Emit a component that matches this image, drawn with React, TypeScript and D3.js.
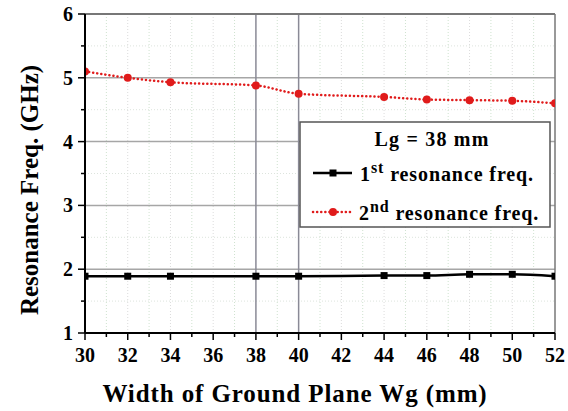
import React from "react";
import * as d3 from "d3";

const widths = [30, 32, 34, 38, 40, 44, 46, 48, 50, 52];
const firstRes = [1.89, 1.89, 1.89, 1.89, 1.89, 1.9, 1.9, 1.92, 1.92, 1.89];
const secondRes = [5.1, 5.0, 4.93, 4.88, 4.75, 4.7, 4.66, 4.65, 4.64, 4.6];
const xTicks = [30, 32, 34, 36, 38, 40, 42, 44, 46, 48, 50, 52];
const yTicks = [1, 2, 3, 4, 5, 6];
const xLabel = "Width of Ground Plane Wg (mm)";
const yLabel = "Resonance Freq. (GHz)";
const legendTitle = "Lg = 38 mm";

const W = 568, H = 411;
const FONT = "'Liberation Serif', 'Times New Roman', serif";

export default function App() {
  const x = d3.scaleLinear().domain([30, 52]).range([85, 555]);
  const y = d3.scaleLinear().domain([1, 6]).range([333, 14]);

  const s1 = widths.map((w, i) => [w, firstRes[i]] as [number, number]);
  const s2 = widths.map((w, i) => [w, secondRes[i]] as [number, number]);
  const line = d3
    .line<[number, number]>()
    .x((d) => x(d[0]))
    .y((d) => y(d[1]))
    .curve(d3.curveMonotoneX);

  const intX = d3.range(30, 53);
  const halfY = d3.range(1.5, 6, 1);

  return (
    <div style={{ position: "absolute", left: 0, top: 0 }}>
      <svg width={W} height={H} style={{ display: "block", background: "#fff" }} fontFamily={FONT}>
        <defs>
          <clipPath id="plot">
            <rect x={x(30)} y={y(6)} width={x(52) - x(30)} height={y(1) - y(6)} />
          </clipPath>
        </defs>
        {/* minor grid */}
        {intX.filter((v) => v !== 30 && v !== 52 && v !== 38 && v !== 40).map((v) => (
          <line key={"vx" + v} x1={x(v)} x2={x(v)} y1={y(6)} y2={y(1)}
            stroke={v % 2 === 1 ? "#cfe2cf" : "#dcdcdc"} strokeWidth={1} strokeDasharray="1,2" />
        ))}
        {halfY.map((v) => (
          <line key={"hy" + v} x1={x(30)} x2={x(52)} y1={y(v)} y2={y(v)}
            stroke="#dde4dd" strokeWidth={1} strokeDasharray="1,2" />
        ))}
        {/* major grid */}
        {[2, 3, 4, 5].map((v) => (
          <line key={"gy" + v} x1={x(30)} x2={x(52)} y1={y(v)} y2={y(v)} stroke="#a6a6a6" strokeWidth={1.5} />
        ))}
        {[38, 40].map((v) => (
          <line key={"gx" + v} x1={x(v)} x2={x(v)} y1={y(6)} y2={y(1)} stroke="#8a8a96" strokeWidth={1.5} />
        ))}
        {/* frame */}
        <line x1={x(30)} x2={x(52)} y1={y(6)} y2={y(6)} stroke="#777" strokeWidth={2} />
        <line x1={x(52)} x2={x(52)} y1={y(6)} y2={y(1)} stroke="#777" strokeWidth={1.5} />

        {/* series */}
        <g clipPath="url(#plot)">
          <path d={line(s1) || ""} fill="none" stroke="#000" strokeWidth={2.5} />
          {s1.map((d, i) => (
            <rect key={"m1" + i} x={x(d[0]) - 3.5} y={y(d[1]) - 3.5} width={7} height={7} fill="#000" />
          ))}
          <path d={line(s2) || ""} fill="none" stroke="#e01b1b" strokeWidth={2.5}
            strokeDasharray="0.1,4" strokeLinecap="round" />
          {s2.map((d, i) => (
            <circle key={"m2" + i} cx={x(d[0])} cy={y(d[1])} r={4} fill="#e01b1b" />
          ))}
        </g>

        {/* axes */}
        <line x1={x(30)} x2={x(30)} y1={y(6)} y2={y(1)} stroke="#000" strokeWidth={2} />
        <line x1={x(30)} x2={x(52)} y1={y(1)} y2={y(1)} stroke="#000" strokeWidth={2} />
        {intX.map((v) => (
          <line key={"tx" + v} x1={x(v)} x2={x(v)} y1={y(1)} y2={y(1) + (v % 2 === 0 ? 7 : 4)}
            stroke="#000" strokeWidth={1.5} />
        ))}
        {d3.range(1, 6.01, 0.5).map((v) => (
          <line key={"ty" + v} x1={x(30)} x2={x(30) - (Number.isInteger(v) ? 7 : 4)} y1={y(v)} y2={y(v)}
            stroke="#000" strokeWidth={1.5} />
        ))}
        {xTicks.map((v) => (
          <text key={"lx" + v} x={x(v)} y={362} textAnchor="middle" fontSize={20} fontWeight="bold">{v}</text>
        ))}
        {yTicks.map((v) => (
          <text key={"ly" + v} x={73} y={y(v) + 7} textAnchor="end" fontSize={20} fontWeight="bold">{v}</text>
        ))}
        <text x={295} y={402} textAnchor="middle" fontSize={25} fontWeight="bold" letterSpacing={0.9}>{xLabel}</text>
        <text transform={`translate(38,190) rotate(-90)`} textAnchor="middle" fontSize={25} fontWeight="bold">{yLabel}</text>

        {/* legend */}
        <rect x={300} y={122} width={250} height={105} fill="#fff" stroke="#555" strokeWidth={1.5} />
        <text x={432} y={146} textAnchor="middle" fontSize={20} fontWeight="bold" letterSpacing={1.2}>{legendTitle}</text>
        <line x1={313} x2={352} y1={173} y2={173} stroke="#000" strokeWidth={2.5} />
        <rect x={329.5} y={169.5} width={7} height={7} fill="#000" />
        <text x={360} y={181} fontSize={20} fontWeight="bold" letterSpacing={0.9}>
          1<tspan dy={-8} fontSize={16}>st</tspan><tspan dy={8}> resonance freq.</tspan>
        </text>
        <line x1={313} x2={352} y1={212} y2={212} stroke="#e01b1b" strokeWidth={2.5}
          strokeDasharray="0.1,4" strokeLinecap="round" />
        <circle cx={333} cy={212} r={4} fill="#e01b1b" />
        <text x={359} y={220} fontSize={20} fontWeight="bold" letterSpacing={0.9}>
          2<tspan dy={-8} fontSize={16}>nd</tspan><tspan dy={8}> resonance freq.</tspan>
        </text>
      </svg>
    </div>
  );
}
